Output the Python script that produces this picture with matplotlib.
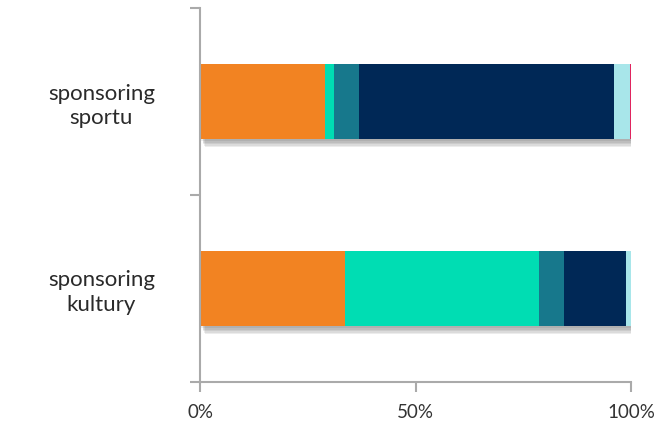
import numpy as np
import matplotlib
matplotlib.use("Agg")
import matplotlib.pyplot as plt
import matplotlib.patheffects as pe

# share of each answer per category (percent), bottom row first
categories = ["sponsoring\nkultury", "sponsoring\nsportu"]
seg_orange = [33.7, 28.9]
seg_turquoise = [45.0, 2.3]
seg_teal = [5.8, 5.7]
seg_navy = [14.3, 59.2]
seg_cyan = [1.2, 3.7]
seg_pink = [0.0, 0.2]

series = [seg_orange, seg_turquoise, seg_teal, seg_navy, seg_cyan, seg_pink]
colors = ["#F28322", "#00DDB3", "#17788C", "#002856", "#A8E6EA", "#E0245E"]

plt.rcParams["font.family"] = ["Lato", "DejaVu Sans"]

fig = plt.figure(figsize=(6.6, 4.33), dpi=100)
ax = fig.add_axes([200 / 660, 51 / 433, 431 / 660, 374 / 433])

y = np.arange(len(categories))
left = np.zeros(len(categories))

# soft drop shadow under the whole stacked bar, built from a few faint offsets
totals = np.sum(series, axis=0)
soft = [pe.SimplePatchShadow(offset=(dx, dy), shadow_rgbFace="#333333", alpha=0.09)
        for dx, dy in [(1, -1.5), (2, -2.5), (2.5, -3.5), (3, -4.5), (3.5, -5.5)]]
ax.barh(y, totals, height=0.405, color="none", linewidth=0, zorder=1, path_effects=soft)
for vals, c in zip(series, colors):
    ax.barh(y, vals, left=left, height=0.405, color=c, zorder=2, linewidth=0)
    left += np.array(vals)

ax.set_xlim(0, 100)
ax.set_ylim(-0.5, 1.5)

ax.set_xticks([0, 50, 100])
ax.set_xticklabels(["0%", "50%", "100%"], fontsize=13.5, color="#333333")
ax.set_yticks([-0.5, 0.5, 1.5])
ax.set_yticklabels([])
ax.set_yticks(y, minor=True)
ax.set_yticklabels(categories, minor=True, fontsize=16, color="#2a2a2a",
                   ha="center", linespacing=1.3)
ax.tick_params(axis="y", which="minor", length=0, pad=71)
ax.tick_params(axis="y", which="major", length=7, color="#aaaaaa", width=1.5)
ax.tick_params(axis="x", length=7, color="#aaaaaa", width=1.5, pad=9)

for s in ["top", "right"]:
    ax.spines[s].set_visible(False)
for s in ["left", "bottom"]:
    ax.spines[s].set_color("#aaaaaa")
    ax.spines[s].set_linewidth(1.5)

fig.savefig("out.png", dpi=100)
